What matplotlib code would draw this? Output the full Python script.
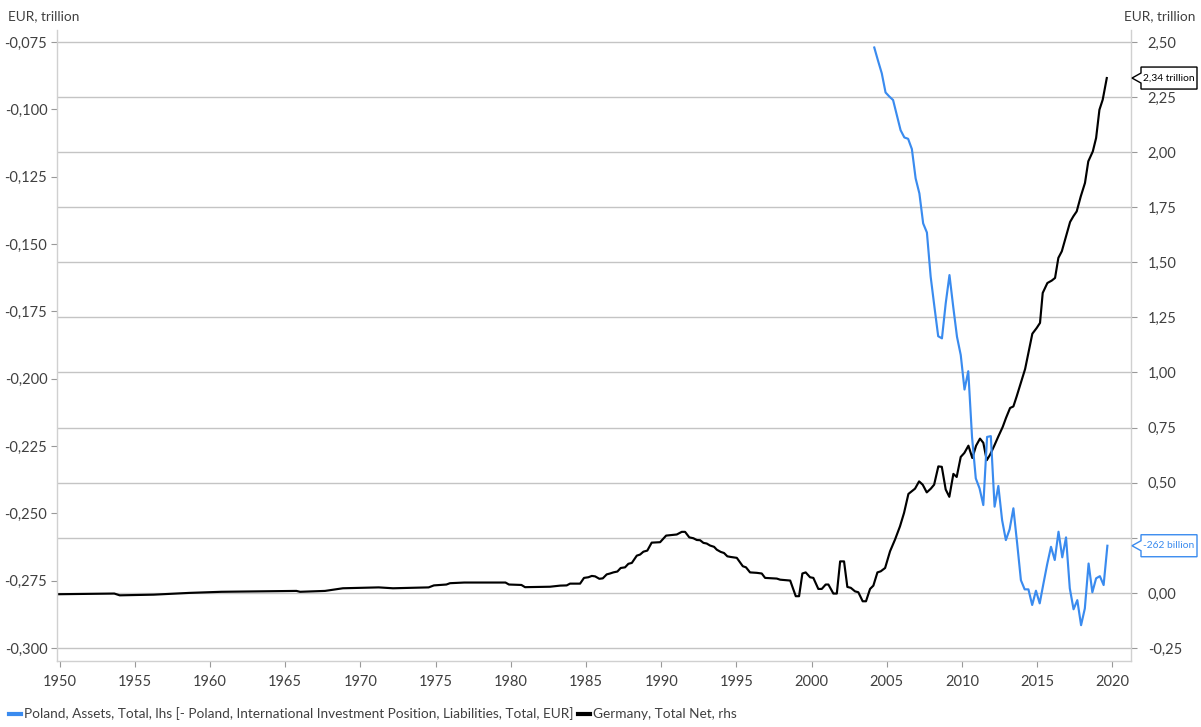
import numpy as np
import matplotlib
matplotlib.use("Agg")
import matplotlib.pyplot as plt
from matplotlib.patches import Polygon
from matplotlib.ticker import FuncFormatter, FixedLocator

plt.rcParams['font.family'] = ['Lato', 'DejaVu Sans']

# ---------------- data ----------------
# Poland (lhs), quarterly from 2004Q1 to 2019Q3
poland_start = 2004.17
poland_values = [
    -0.0770, -0.0819, -0.0866, -0.0937, -0.0952, -0.0965, -0.1021, -0.1077,
    -0.1104, -0.1109, -0.1147, -0.1256, -0.1312, -0.1423, -0.1457, -0.1621,
    -0.1733, -0.1842, -0.1850, -0.1720, -0.1615, -0.1733, -0.1844, -0.1912,
    -0.2040, -0.1972, -0.2216, -0.2370, -0.2407, -0.2469, -0.2216, -0.2213,
    -0.2475, -0.2398, -0.2525, -0.2599, -0.2559, -0.2481, -0.2611, -0.2748,
    -0.2782, -0.2782, -0.2840, -0.2787, -0.2834, -0.2760, -0.2688, -0.2624,
    -0.2673, -0.2568, -0.2663, -0.2589, -0.2778, -0.2856, -0.2822, -0.2915,
    -0.2853, -0.2686, -0.2793, -0.2741, -0.2733, -0.2766, -0.2620,
]

# Germany (rhs)
germany_years = [
    1949.9, 1953.64, 1954.0, 1956.26, 1958.63, 1960.76, 1965.75, 1965.99, 1967.65,
    1968.84, 1971.22, 1972.17, 1974.54, 1974.89, 1975.72, 1975.96, 1976.91, 1979.65,
    1979.88, 1980.71, 1980.95, 1982.61, 1983.28, 1983.72, 1983.94, 1984.61, 1984.87,
    1985.16, 1985.39, 1985.61, 1985.89, 1986.12, 1986.38, 1986.60, 1986.82, 1987.09,
    1987.31, 1987.60, 1987.82, 1988.05, 1988.38, 1988.60, 1988.82, 1989.08, 1989.37,
    1989.93, 1990.33, 1991.04, 1991.37, 1991.59, 1991.87, 1992.14, 1992.37, 1992.59,
    1992.81, 1993.03, 1993.25, 1993.52, 1993.70, 1993.96, 1994.18, 1994.40, 1994.63,
    1995.03, 1995.20, 1995.43, 1995.64, 1995.91, 1996.36, 1996.69, 1996.91, 1997.69,
    1997.91, 1998.58, 1998.79, 1998.95, 1999.17, 1999.39, 1999.61, 1999.90, 2000.12,
    2000.45, 2000.68, 2000.94, 2001.12, 2001.45, 2001.68, 2001.90, 2002.16, 2002.38,
    2002.61, 2002.89, 2003.11, 2003.40, 2003.62, 2003.89, 2004.11, 2004.38, 2004.60,
    2004.89, 2005.22, 2005.55, 2005.88, 2006.15, 2006.44, 2006.66, 2006.88, 2007.15,
    2007.39, 2007.66, 2007.93, 2008.15, 2008.43, 2008.66, 2008.92, 2009.16, 2009.43,
    2009.65, 2009.92, 2010.16, 2010.43, 2010.69, 2010.94, 2011.20, 2011.42, 2011.65,
    2011.87, 2012.13, 2012.42, 2012.71, 2012.93, 2013.20, 2013.42, 2013.64, 2013.91,
    2014.20, 2014.42, 2014.68, 2014.97, 2015.19, 2015.37, 2015.68, 2015.97, 2016.19,
    2016.41, 2016.64, 2016.92, 2017.19, 2017.41, 2017.63, 2017.90, 2018.18, 2018.40,
    2018.70, 2018.92, 2019.14, 2019.36, 2019.63,
]
germany_values = [
    -0.006, -0.003, -0.011, -0.008, 0.000, 0.005, 0.009, 0.005, 0.009,
    0.021, 0.025, 0.021, 0.025, 0.034, 0.038, 0.044, 0.047, 0.047,
    0.038, 0.036, 0.026, 0.028, 0.033, 0.034, 0.042, 0.042, 0.068,
    0.071, 0.077, 0.075, 0.064, 0.066, 0.084, 0.088, 0.093, 0.097,
    0.113, 0.116, 0.132, 0.136, 0.169, 0.174, 0.187, 0.192, 0.228,
    0.230, 0.260, 0.265, 0.277, 0.277, 0.252, 0.248, 0.240, 0.239,
    0.227, 0.224, 0.215, 0.209, 0.196, 0.186, 0.181, 0.166, 0.163,
    0.159, 0.143, 0.121, 0.116, 0.093, 0.091, 0.088, 0.068, 0.065,
    0.060, 0.056, 0.015, -0.015, -0.015, 0.088, 0.093, 0.071, 0.068,
    0.018, 0.018, 0.038, 0.038, -0.003, -0.003, 0.143, 0.143, 0.027,
    0.023, 0.007, 0.003, -0.038, -0.038, 0.018, 0.033, 0.093, 0.098,
    0.113, 0.189, 0.242, 0.302, 0.363, 0.449, 0.461, 0.473, 0.506,
    0.491, 0.456, 0.473, 0.491, 0.574, 0.572, 0.469, 0.436, 0.540,
    0.526, 0.617, 0.635, 0.668, 0.612, 0.668, 0.700, 0.681, 0.602,
    0.627, 0.665, 0.710, 0.753, 0.794, 0.839, 0.846, 0.892, 0.952,
    1.016, 1.089, 1.176, 1.202, 1.225, 1.361, 1.406, 1.417, 1.429,
    1.520, 1.550, 1.618, 1.683, 1.709, 1.731, 1.799, 1.860, 1.958,
    2.003, 2.064, 2.192, 2.238, 2.336,
]

left_ticks = [-0.300, -0.275, -0.250, -0.225, -0.200, -0.175, -0.150, -0.125, -0.100, -0.075]
right_ticks = [-0.25, 0.00, 0.25, 0.50, 0.75, 1.00, 1.25, 1.50, 1.75, 2.00, 2.25, 2.50]
right_hidden = [0.25]   # label covered by the value tag in the reference
x_ticks = [1950, 1955, 1960, 1965, 1970, 1975, 1980, 1985, 1990, 1995, 2000, 2005, 2010, 2015, 2020]

poland_label = "Poland, Assets, Total, lhs [- Poland, International Investment Position, Liabilities, Total, EUR]"
germany_label = "Germany, Total Net, rhs"
unit_label = "EUR, trillion"
poland_tag = "-262 billion"
germany_tag = "2,34 trillion"

BLUE = "#3a8bef"
BLACK = "#000000"
GRID = "#c4c4c4"
SPINE = "#d0d0d0"
TXT = "#404040"

# ---------------- figure ----------------
W, H = 1201, 727
fig = plt.figure(figsize=(W / 100, H / 100), dpi=100)
L, R, T, B = 57, 1131, 30, 661
ax = fig.add_axes([L / W, (H - B) / H, (R - L) / W, (B - T) / H])
ax2 = ax.twinx()

poland_x = poland_start + 0.25 * np.arange(len(poland_values))

ax2.plot(germany_years, germany_values, color=BLACK, lw=1.55, solid_joinstyle='round')
ax.plot(poland_x, poland_values, color=BLUE, lw=1.55, solid_joinstyle='round')

ax.set_zorder(ax2.get_zorder() + 1)
ax.patch.set_visible(False)

ax.set_xlim(1949.83, 2021.24)
ax.set_ylim(-0.3048, -0.0705)
ax2.set_ylim(-0.309, 2.554)

ax.yaxis.set_major_locator(FixedLocator(left_ticks))
ax2.yaxis.set_major_locator(FixedLocator(right_ticks))
ax.xaxis.set_major_locator(FixedLocator(x_ticks))


def right_fmt(v, p):
    if any(abs(v - h) < 1e-9 for h in right_hidden):
        return ""
    return f"{v:.2f}".replace(".", ",")


ax.yaxis.set_major_formatter(FuncFormatter(lambda v, p: f"{v:.3f}".replace(".", ",")))
ax2.yaxis.set_major_formatter(FuncFormatter(right_fmt))
ax.xaxis.set_major_formatter(FuncFormatter(lambda v, p: f"{int(round(v))}"))

ax2.grid(True, axis='y', color=GRID, lw=1.0)
ax2.set_axisbelow(True)

for a in (ax, ax2):
    for s in a.spines.values():
        s.set_color(SPINE)
        s.set_linewidth(1.0)
    a.spines['top'].set_visible(False)
    a.tick_params(colors='#999999', labelcolor=TXT, labelsize=10.5, length=4, width=0.8)
ax.spines['right'].set_visible(False)
ax2.spines['left'].set_visible(False)
ax2.spines['bottom'].set_visible(False)
ax.tick_params(axis='x', pad=6)
ax.tick_params(axis='y', pad=3)
ax2.tick_params(axis='y', pad=8)

fig.text(8 / W, 1 - 16 / H, unit_label, ha='left', va='center', fontsize=9.8, color=TXT)
fig.text(1195 / W, 1 - 16 / H, unit_label, ha='right', va='center', fontsize=9.8, color=TXT)

# ---------------- value tags ----------------
def tag(axis, xval, yval, text, color):
    _, ypix = axis.transData.transform((xval, yval))
    x0 = 1132
    x1 = 1141
    x2 = 1197
    hh = 11
    notch = 5
    pts = [(x0, ypix), (x1, ypix + notch), (x1, ypix + hh), (x2, ypix + hh),
           (x2, ypix - hh), (x1, ypix - hh), (x1, ypix - notch)]
    poly = Polygon(pts, closed=True, transform=None, facecolor='white',
                   edgecolor=color, lw=1.0, zorder=10, clip_on=False)
    fig.add_artist(poly)
    fig.text((x1 + x2) / 2 / W, ypix / H, text, ha='center', va='center',
             fontsize=7.4, color=color, zorder=11)

fig.canvas.draw()
tag(ax2, germany_years[-1], germany_values[-1], germany_tag, BLACK)
tag(ax, poland_x[-1], poland_values[-1], poland_tag, BLUE)

# ---------------- legend ----------------
h1, = ax.plot([], [], color=BLUE, lw=3)
h2, = ax.plot([], [], color=BLACK, lw=3)
fig.legend([h1, h2], [poland_label, germany_label], loc='center left',
           bbox_to_anchor=(9 / W, 1 - 714 / H), ncol=2, frameon=False,
           fontsize=9.8, handlelength=0.9, handletextpad=0.2, columnspacing=0.3,
           borderaxespad=0, borderpad=0, labelcolor=TXT)

fig.savefig("out.png", dpi=100)
